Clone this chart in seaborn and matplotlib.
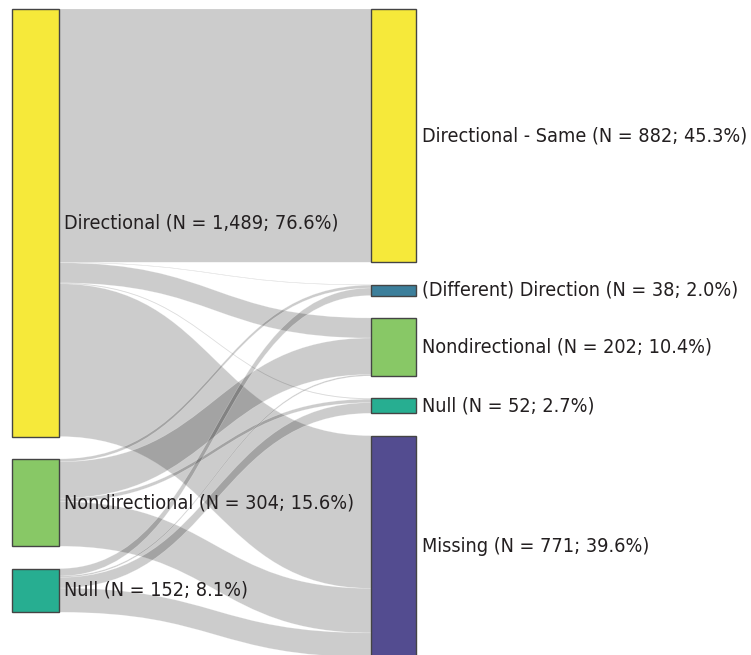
import matplotlib
matplotlib.use("Agg")
import matplotlib.pyplot as plt
import numpy as np
import seaborn as sns
from matplotlib.patches import PathPatch, Rectangle
from matplotlib.path import Path

SOURCES = ["Directional", "Nondirectional", "Null"]
SOURCE_N = [1489, 304, 152]
SOURCE_PCT = [76.6, 15.6, 8.1]

TARGETS = ["Directional - Same", "(Different) Direction", "Nondirectional", "Null", "Missing"]
TARGET_N = [882, 38, 202, 52, 771]
TARGET_PCT = [45.3, 2.0, 10.4, 2.7, 39.6]

# flows from each source to the targets (same order as TARGETS)
FROM_DIRECTIONAL = [882, 2, 70, 3, 532]
FROM_NONDIRECTIONAL = [0, 10, 127, 12, 155]
FROM_NULL = [0, 26, 5, 37, 84]

SOURCE_COLORS = ["#f6e93a", "#88c866", "#27ae91"]
TARGET_COLORS = ["#f6e93a", "#3c7f9b", "#88c866", "#27ae91", "#534c90"]

NODE_PAD = 78
LEFT_X = (12, 59)
RIGHT_X = (371, 416)


def stack(values, pad):
    tops = []
    y = 0.0
    for v in values:
        tops.append(y)
        y += v + pad
    return tops


def link_patch(x0, x1, y0a, y0b, y1a, y1b):
    xm = (x0 + x1) / 2
    verts = [
        (x0, y0a), (xm, y0a), (xm, y1a), (x1, y1a),
        (x1, y1b),
        (xm, y1b), (xm, y0b), (x0, y0b),
        (x0, y0a),
    ]
    codes = [Path.MOVETO, Path.CURVE4, Path.CURVE4, Path.CURVE4,
             Path.LINETO,
             Path.CURVE4, Path.CURVE4, Path.CURVE4,
             Path.CLOSEPOLY]
    return PathPatch(Path(verts, codes), facecolor=(0, 0, 0, 0.2),
                     edgecolor=(1, 1, 1, 0.35), linewidth=0.4, zorder=1)


def main():
    sns.set_theme(style="white")
    plt.rcParams["font.family"] = ["DejaVu Sans"]
    plt.rcParams["font.stretch"] = "condensed"

    flows = np.array([FROM_DIRECTIONAL, FROM_NONDIRECTIONAL, FROM_NULL], dtype=float)
    src_tops = stack(SOURCE_N, NODE_PAD)
    tgt_tops = stack(TARGET_N, NODE_PAD)

    fig = plt.figure(figsize=(7.51, 6.55), dpi=100)
    ax = fig.add_axes([0, 0, 1, 1])
    units_per_px = (sum(TARGET_N) + NODE_PAD * (len(TARGETS) - 1)) / 648.0
    top = -9 * units_per_px
    ax.set_xlim(0, 751)
    ax.set_ylim(top + 655 * units_per_px, top)
    ax.axis("off")

    # outgoing links stacked in target order, incoming links in source order
    out_start = np.zeros_like(flows)
    for i in range(len(SOURCES)):
        y = src_tops[i]
        for j in range(len(TARGETS)):
            out_start[i, j] = y
            y += flows[i, j]
    in_start = np.zeros_like(flows)
    for j in range(len(TARGETS)):
        y = tgt_tops[j]
        for i in range(len(SOURCES)):
            in_start[i, j] = y
            y += flows[i, j]

    for i in range(len(SOURCES)):
        for j in range(len(TARGETS)):
            v = flows[i, j]
            if v <= 0:
                continue
            ax.add_patch(link_patch(LEFT_X[1], RIGHT_X[0],
                                    out_start[i, j], out_start[i, j] + v,
                                    in_start[i, j], in_start[i, j] + v))

    text_kw = dict(ha="left", va="center", fontsize=14.2, color="#231f20", zorder=4,
                   fontstretch="condensed")
    for name, n, pct, y0, c in zip(SOURCES, SOURCE_N, SOURCE_PCT, src_tops, SOURCE_COLORS):
        ax.add_patch(Rectangle((LEFT_X[0], y0), LEFT_X[1] - LEFT_X[0], n,
                               facecolor=c, edgecolor="#444444", linewidth=1.0, zorder=3))
        ax.text(LEFT_X[1] + 5, y0 + n / 2, f"{name} (N = {n:,}; {pct:.1f}%)", **text_kw)

    for name, n, pct, y0, c in zip(TARGETS, TARGET_N, TARGET_PCT, tgt_tops, TARGET_COLORS):
        ax.add_patch(Rectangle((RIGHT_X[0], y0), RIGHT_X[1] - RIGHT_X[0], n,
                               facecolor=c, edgecolor="#444444", linewidth=1.0, zorder=3))
        ax.text(RIGHT_X[1] + 6, y0 + n / 2, f"{name} (N = {n:,}; {pct:.1f}%)", **text_kw)

    fig.savefig("out.png", dpi=100)
    plt.close(fig)


if __name__ == "__main__":
    main()
